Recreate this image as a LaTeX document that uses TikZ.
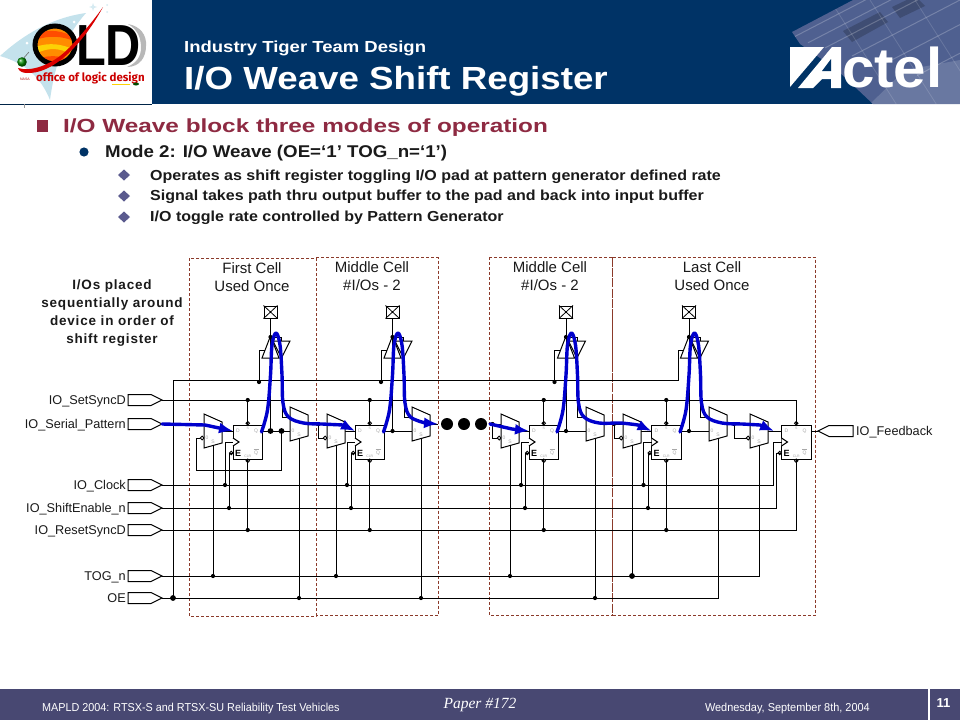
\documentclass[tikz,border=0pt]{standalone}
\usepackage{fontspec}
\setmainfont{Liberation Sans}
\newfontfamily\serifface{Liberation Serif}
\newfontfamily\logoface{Fira Sans}
\usetikzlibrary{arrows.meta,calc}
\definecolor{navy}{HTML}{003366}
\definecolor{barcol}{HTML}{484872}
\definecolor{wine}{HTML}{8E2A42}
\definecolor{diam}{HTML}{5A5A8E}
\definecolor{boxline}{HTML}{8B3A2A}
\definecolor{flow}{HTML}{0000CC}
\definecolor{pinmark}{HTML}{A8A8A8}
\definecolor{txt}{HTML}{1A1A1A}
\definecolor{swoosh}{HTML}{C4E2EC}
\definecolor{tile}{HTML}{4F6090}
\newcommand\fs[1]{\fontsize{#1}{#1}\selectfont}
\newcommand\sx[2]{\scalebox{#1}[1]{#2}}
\tikzset{
  wire/.style={draw=black,line width=1pt,line join=miter},
  blk/.style={draw=black,line width=1pt,fill=white,line join=miter},
  cellbox/.style={draw=boxline,line width=.9pt,dash pattern=on 3pt off 2pt},
  flowline/.style={draw=flow,line width=3.4pt,line cap=round,line join=round},
  flowtip/.style={flowline,-{Latex[length=14pt,width=11pt]}},
  ffbox/.style={draw=black,line width=1pt,fill=white,minimum width=29.5pt,minimum height=34pt,inner sep=0pt},
  padbox/.style={draw=black,line width=1pt,fill=white,minimum width=13pt,minimum height=12pt,inner sep=0pt},
  wlabel/.style={inner sep=0pt,text=txt,font=\fs{12.7}},
  hlabel/.style={inner sep=0pt,text=txt,font=\fs{15},align=center},
  pinm/.style={inner sep=0pt,text=pinmark,font=\fs{5}},
  bullettext/.style={inner sep=0pt,anchor=base west,text=txt,font=\bfseries\fs{14.5}},
}
\newcommand\jd[1]{\fill (#1) circle (2.1pt);}
\newcommand\jD{}
\renewcommand\jD[1]{\fill (#1) circle (2.9pt);}
\newcommand\ffcell[2]{%
  \node[ffbox] (#1) at (#2+14.75,442) {};
  \coordinate (#1D) at (#2,431);
  \coordinate (#1Q) at (#2+29.5,431);
  \coordinate (#1C) at (#2,442);
  \coordinate (#1E) at (#2,453);
  \draw[blk] (#2,438) -- (#2+6,442) -- (#2,446);
  \draw[blk,line width=.9pt] (#2-1.7,453) circle (1.7pt);
  \draw[blk,line width=.9pt] (#2+14.75,423.3) circle (1.7pt);
  \draw[blk,line width=.9pt] (#2+14.75,460.7) circle (1.7pt);
  \node[inner sep=0pt,font=\bfseries\fs{9},text=black] at (#2+5,453.5) {E};
  \node[pinm] at (#2+5,431) {D};
  \node[pinm] at (#2+23,431) {Q};
  \node[pinm] at (#2+23,453) {Q};
  \draw[pinmark,line width=.6pt] (#2+20.5,449.5) -- (#2+25.5,449.5);
  \node[pinm,font=\fs{3.5}] at (#2+14.75,428) {S};
  \node[pinm,font=\fs{3.5}] at (#2+14.75,456) {CLR};
}
\newcommand\muxcell[3]{%
  \coordinate (#1A) at (#2,#3+10);
  \coordinate (#1B) at (#2,#3+24);
  \coordinate (#1O) at (#2+18,#3+17);
  \coordinate (#1S) at (#2+9,#3+31);
}
\newcommand\padcell[2]{%
  \node[padbox] (#1) at (#2,312) {};
  \draw[black,line width=.8pt] (#1.north west) -- (#1.south east) (#1.north east) -- (#1.south west);
  \coordinate (#1T) at (#2,358);
  \coordinate (#1R) at (#2+11.5,358);
  \coordinate (#1J) at (#2,337);
  \draw[wire] (#1.south) -- (#1T);
  \draw[wire] (#1J) -- (#2+11,337) -- (#2+11,341);
  \draw[line width=1pt] (#2,336) -- (#2+8.5,358) -- (#2-8.5,358) -- cycle;
  \draw[line width=1pt] (#2+2.5,341) -- (#2+19.5,341) -- (#2+11,358) -- cycle;
  \jd{#1J}
}
\newcommand\port[3]{%
  \coordinate (#1) at (162,#2);
  \draw[blk] (162,#2) -- (151,#2-5.5) -- (128,#2-5.5) -- (128,#2+5.5) -- (151,#2+5.5) -- cycle;
  \node[wlabel,anchor=base east] (#1L) at (126,#2+4.5) {#3};
}
\newcommand\hump[1]{(#1-9,432) (#1-3,410) (#1,375) (#1+1.5,345) (#1+5.5,333) (#1+9.5,345) (#1+11.5,375) (#1+12.5,403) (#1+18,417) (#1+33,423)}
\begin{document}
\begin{tikzpicture}[x=1pt,y=-1pt]
\useasboundingbox (0,0) rectangle (960,720);
\fill[white] (0,0) rectangle (960,720);
% ---------- header
\fill[navy] (152,0) rectangle (960,104);
\begin{scope}
  \clip (792,32) -- (853,0) -- (960,0) -- (960,104) -- (873,104) -- (837,70) -- (800,44) -- cycle;
  \fill[tile] (780,0) rectangle (960,104);
  \fill[tile!80!black] (843,31) -- (880,12) -- (888,22) -- (852,42) -- cycle;
  \fill[tile!80!black] (892,7) -- (915,-4) -- (925,6) -- (900,18) -- cycle;
  \fill[tile!85!white] (870,104) -- (960,104) -- (960,60) -- (905,70) -- cycle;
  \foreach \d in {0,16,33,60,90,125}{\draw[white,opacity=.22,line width=1pt] (792+\d,38+\d*.3) -- (900+\d,-18+\d*.3);}
  \foreach \d in {0,40,85,130}{\draw[white,opacity=.14,line width=.8pt] (830+\d,0) -- (900+\d,110);}
\end{scope}
\fill[white] (790,47) -- (824,47) -- (790,87) -- cycle;
\fill[white] (798,88) -- (832,47) -- (841,47) -- (841,88) -- (831,88) -- (831,79) -- (822,79) -- (813,88) -- cycle;
\fill[navy] (831,71) -- (831,59) -- (822,71) -- cycle;
\node[inner sep=0pt,anchor=base west,text=white,font=\bfseries\fs{56}] (actel) at (842,87.5) {\sx{1.04}{ctel}};
\node[inner sep=0pt,anchor=base west,text=white,font=\bfseries\fs{16}] (kicker) at (184,52.5) {\sx{1.156}{Industry Tiger Team Design}};
\node[inner sep=0pt,anchor=base west,text=white,font=\bfseries\fs{32}] (title) at (184,89.5) {\sx{1.147}{I/O Weave Shift Register}};
% ---------- logo
\draw[navy!70!black,line width=.8pt] (0,104.5) -- (152,104.5);
\draw[black!40,line width=.6pt] (24,104) -- (24,108);
\fill[swoosh] (0,56) .. controls (22,36) and (50,18) .. (86,13) .. controls (62,40) and (54,70) .. (50,100) .. controls (42,80) and (28,64) .. (0,56) -- cycle;
\fill[white] (74,22) circle (1.5pt) (27,43) circle (1.5pt);
\fill[swoosh!70!white] (93,3) -- (94,6) -- (97,7) -- (94,8) -- (93,11) -- (92,8) -- (89,7) -- (92,6) -- cycle;
\fill[swoosh!70!white] (107,12) circle (1pt) (107,5) circle (1pt);
\fill[black!28] (146,46) .. controls (147,35) and (140,26) .. (128,24) .. controls (138,30) and (141,38) .. (141,48) .. controls (141,56) and (137,63) .. (127,67) .. controls (140,67) and (146,57) .. (146,46) -- cycle;
\fill[orange!90!yellow] (55,45) ellipse (20pt and 19pt);
\fill[orange!60!red] (38,33) .. controls (50,29) and (62,31) .. (72,36) -- (74,41) .. controls (62,36) and (48,35) .. (36,40) -- cycle;
\fill[yellow!70!orange] (35,47) .. controls (50,42) and (62,44) .. (75,50) -- (73,55) .. controls (60,48) and (50,47) .. (37,53) -- cycle;
\fill[orange!60!red] (41,58) .. controls (50,55) and (60,56) .. (69,59) -- (62,64) -- (47,63) -- cycle;
\draw[black,line width=5pt] (55,45) ellipse (20pt and 19pt);
\node[inner sep=0pt,anchor=base west,text=black,font=\bfseries\fs{58}] (old) at (76,65) {\sx{.84}{LD}};
\fill[red!85!black] (103,7) .. controls (88,35) and (58,74) .. (27,73) .. controls (22,73) and (19,71) .. (18,68) .. controls (30,72) and (52,66) .. (70,47) .. controls (82,34) and (94,20) .. (103,7) -- cycle;
\draw[black!60,line width=.6pt] (22,60) -- (29,52);
\shade[ball color=green!55!black] (22,62) circle (4.8pt);
\node[inner sep=0pt,anchor=base west,text=red!80!black,font=\logoface\bfseries\fs{11.5}] (oldsub) at (36,81) {office of logic design};
\node[inner sep=0pt,anchor=base west,text=red!70!black,font=\fs{3.5}] (nasa) at (20,80) {NASA};
\fill[yellow!70!orange] (112,83.5) rectangle (130,84.3);
\fill[green!30!black] (136,84) ellipse (3pt and 1.5pt);
% ---------- bullets
\fill[wine] (37,120) rectangle (48,132);
\node[inner sep=0pt,anchor=base west,text=wine,font=\bfseries\fs{19}] (head) at (63,132) {\sx{1.28}{I/O Weave block three modes of operation}};
\fill[navy] (84,152) circle (4.6pt);
\node[inner sep=0pt,anchor=base west,text=txt,font=\bfseries\fs{17}] (mode) at (105,157) {\sx{1.10}{Mode 2: I/O Weave (OE=‘1’ TOG\_n=‘1’)}};
\foreach \yy in {175,196,217}{\fill[diam] (124,\yy-5.5) -- (130,\yy) -- (124,\yy+5.5) -- (118,\yy) -- cycle;}
\node[bullettext] (b1) at (150,180) {\sx{1.105}{Operates as shift register toggling I/O pad at pattern generator defined rate}};
\node[bullettext] (b2) at (150,200.5) {\sx{1.105}{Signal takes path thru output buffer to the pad and back into input buffer}};
\node[bullettext] (b3) at (150,221.5) {\sx{1.105}{I/O toggle rate controlled by Pattern Generator}};
% ---------- cell outlines
\draw[cellbox] (189,258) rectangle (316,616);
\draw[cellbox] (316,257.5) -- (438,257.5) -- (438,615) -- (316,615);
\draw[cellbox] (489,257) rectangle (612.5,615);
\draw[cellbox] (612.5,257) -- (815,257) -- (815,615) -- (612.5,615);
\draw[boxline,line width=1pt,dash pattern=on 9pt off 1.5pt] (612.5,257) -- (612.5,615);
\node[hlabel] (c1t) at (252,277) {First Cell\\[3pt]Used Once};
\node[hlabel] (c2t) at (372,276) {Middle Cell\\[3pt]\#I/Os - 2};
\node[hlabel] (c3t) at (550,276) {Middle Cell\\[3pt]\#I/Os - 2};
\node[hlabel] (c4t) at (712,276) {Last Cell\\[3pt]Used Once};
\node[inner sep=0pt,text=txt,font=\bfseries\fs{13.5}\addfontfeatures{LetterSpace=6},align=center] (note) at (112,313) {I/Os placed\\[4.3pt]sequentially around\\[4.3pt]device in order of\\[4.3pt]shift register};
% ---------- ports and anchors
\port{pSet}{400}{IO\_SetSyncD}
\port{pSer}{424}{IO\_Serial\_Pattern}
\port{pClk}{485}{IO\_Clock}
\port{pEn}{508}{IO\_ShiftEnable\_n}
\port{pRst}{530}{IO\_ResetSyncD}
\port{pTog}{576}{TOG\_n}
\port{pOe}{598}{OE}
\node[wlabel,anchor=base west] (fbL) at (856,435) {IO\_Feedback};
\draw[blk] (818,431) -- (829,425.5) -- (853,425.5) -- (853,436.5) -- (829,436.5) -- cycle;
\coordinate (pFb) at (818,431);
\ffcell{fa}{233}\ffcell{fb}{355}\ffcell{fc}{529}\ffcell{fd}{651.5}\ffcell{fe}{781.5}
\muxcell{la}{204}{414}\muxcell{ra}{290}{407}
\muxcell{lb}{327}{414}\muxcell{rb}{412}{407}
\muxcell{lc}{501}{414}\muxcell{rc}{586}{407}
\muxcell{ld}{623}{414}\muxcell{rd}{709}{407}
\muxcell{le}{750}{414}
\padcell{pa}{270.5}\padcell{pb}{392.5}\padcell{pc}{566}\padcell{pd}{689}
% ---------- buses
\draw[wire] (pSet) -- (fe.north |- pSet) -- (fe.north);
\draw[wire] (pRst) -- (fe.south |- pRst) -- (fe.south);
\draw[wire] (pClk) -- (773,485) -- (773,442) -- (feC);
\draw[wire] (pEn) -- (776.5,508) -- (776.5,453) -- (feE);
\draw[wire] (pTog) -- (leS |- pTog) -- (leS);
\draw[wire] (pOe) -- (rdS |- pOe) -- (rdS);
\draw[wire] (173,598) -- (173,380) -- (678,380) -- (678,350) -- (683.5,350);
\jD{173,598}
% ---------- taps per cell
\foreach \f/\cx/\ex in {fa/225/229,fb/347/351,fc/521/525,fd/643.5/648}{
  \draw[wire] (\cx,485) -- (\cx,442) -- (\f C);
  \draw[wire] (\ex,508) -- (\ex,453) -- (\f E);
  \jd{\cx,485}\jd{\ex,508}
  \draw[wire] (\f.north) -- (\f.north |- pSet);
  \draw[wire] (\f.south) -- (\f.south |- pRst);
  \jd{\f.north |- pSet}\jd{\f.south |- pRst}
}
\foreach \m in {la,lb,lc}{\draw[wire] (\m S) -- (\m S |- pTog); \jd{\m S |- pTog}}
\draw[wire] (ldS) -- (ldS |- pTog); \jD{ldS |- pTog}
\foreach \m in {ra,rb,rc}{\draw[wire] (\m S) -- (\m S |- pOe); \jd{\m S |- pOe}}
% ---------- tristate enables
\foreach \p/\ex in {pa/259,pb/381,pc/554.5}{
  \draw[wire] (\p T) ++(-5.6,-8) -- (\ex,350) -- (\ex,382);
  \jd{\ex,382}
}
% ---------- data chain
\draw[wire] (pSer) -- (laA);
\draw[wire] (laO) -- (faD);
\draw[wire] (faQ) -- (raB);
\draw[wire] (raO) -- (lbA);
\draw[wire] (lbO) -- (fbD);
\draw[wire] (fbQ) -- (rbB);
\draw[wire] (rbO) -- (438,424);
\draw[wire] (492,424) -- (lcA);
\draw[wire] (lcO) -- (fcD);
\draw[wire] (fcQ) -- (rcB);
\draw[wire] (rcO) -- (ldA);
\draw[wire] (ldO) -- (fdD);
\draw[wire] (fdQ) -- (rdB);
\draw[wire] (rdO) -- (leA);
\draw[wire] (leO) -- (feD);
\draw[wire] (feQ) -- (pFb);
% ---------- pad to flip flop and input buffer to output mux
\foreach \p/\f/\m in {pa/fa/ra,pb/fb/rb,pc/fc/rc,pd/fd/rd}{
  \draw[wire] (\p T) -- (\p T |- \f Q);
  \jd{\p T |- \f Q}
  \draw[wire] (\p R) -- (\p R |- \m A) -- (\m A);
}
% ---------- hold loops
\draw[wire] (281.5,431) -- (281.5,470) -- (196,470) -- (196,438) -- (199.8,438);
\jD{281.5,431}\jD{270.5,431}
\foreach \xx/\m in {318.5/lb,492.5/lc,614/ld,734/le}{
  \draw[wire] (\xx,424) -- (\xx,438) -- (\m B);
  \jd{\xx,424}
}
\foreach \m in {la,lb,lc,ld,le}{\draw[blk,line width=.9pt] ($(\m B)+(-1.8,0)$) circle (1.9pt);}
% ---------- mux bodies on top of the wires
\foreach \m/\x/\y in {la/204/414,ra/290/407,lb/327/414,rb/412/407,lc/501/414,rc/586/407,ld/623/414,rd/709/407,le/750/414}{
  \draw[blk] (\x,\y) -- (\x+18,\y+8) -- (\x+18,\y+29) -- (\x,\y+34) -- cycle;
  \node[pinm] at (\x+3,\y+24) {0};
  \node[pinm] at (\x+9,\y+28) {S};
}
% ---------- the three dots
\foreach \xx in {447,464,481}{\fill (\xx,424) circle (6pt);}
% ---------- flow path
\draw[flowtip] (pSer) -- (205,425) -- (faD);
\draw[flowtip] plot[smooth,tension=.6] coordinates {\hump{270.5} (322,424) (343,425)} -- (fbD);
\draw[flowtip] plot[smooth,tension=.6] coordinates {\hump{392.5}} -- (438,424);
\draw[flowtip] (490,424) -- (512,429) -- (fcD);
\draw[flowtip] plot[smooth,tension=.6] coordinates {\hump{566} (620,423) (638,425)} -- (fdD);
\draw[flowtip] plot[smooth,tension=.6] coordinates {\hump{689} (742,424) (760,425)} -- (774,431);
% ---------- footer
\fill[barcol] (0,689) rectangle (960,720);
\fill[white] (928,689) rectangle (930,720);
\node[inner sep=0pt,anchor=base west,text=white,font=\fs{11.5}] (f1) at (42,711) {\sx{.94}{MAPLD 2004: RTSX-S and RTSX-SU Reliability Test Vehicles}};
\node[inner sep=0pt,anchor=base,text=white,font=\serifface\itshape\fs{15.5}] (f2) at (480,708.5) {Paper \#172};
\node[inner sep=0pt,anchor=base east,text=white,font=\fs{11.5}] (f3) at (870,711) {\sx{.95}{Wednesday, September 8th, 2004}};
\node[inner sep=0pt,text=white,font=\bfseries\fs{13}] (pg) at (943.5,703) {11};
\end{tikzpicture}
\end{document}
